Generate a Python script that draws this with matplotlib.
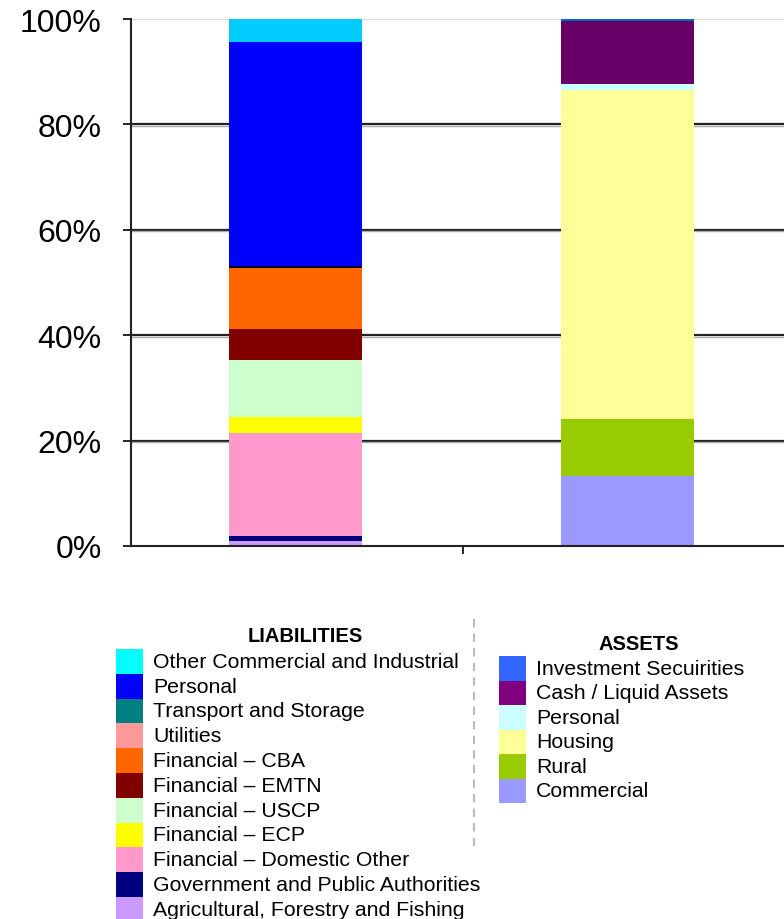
import matplotlib.pyplot as plt
from matplotlib.patches import Rectangle
from matplotlib.lines import Line2D

plt.rcParams['font.family'] = ['Liberation Sans', 'DejaVu Sans']

# liabilities, bottom to top (percent of total)
liab_names = ["Agricultural, Forestry and Fishing", "Government and Public Authorities",
              "Financial \u2013 Domestic Other", "Financial \u2013 ECP", "Financial \u2013 USCP",
              "Financial \u2013 EMTN", "Financial \u2013 CBA", "Utilities", "Transport and Storage",
              "Personal", "Other Commercial and Industrial"]
liab_values = [0.9, 1.0, 19.6, 3.0, 10.8, 5.9, 11.5, 0.1, 0.35, 42.55, 4.3]
liab_colors = ["#CC99FF", "#000080", "#FF99CC", "#FFFF00", "#CCFFCC",
               "#800000", "#FF6600", "#FF9999", "#000000", "#0000FF", "#00CCFF"]
liab_key_colors = ["#CC99FF", "#000080", "#FF99CC", "#FFFF00", "#CCFFCC",
                   "#800000", "#FF6600", "#FF9999", "#008080", "#0000FF", "#00FFFF"]

# assets, bottom to top
asset_names = ["Commercial", "Rural", "Housing", "Personal", "Cash / Liquid Assets",
               "Investment Secuirities"]
asset_values = [13.3, 10.8, 62.4, 1.1, 12.0, 0.4]
asset_colors = ["#9999FF", "#99CC00", "#FFFF99", "#CCFFFF", "#660066", "#0066CC"]
asset_key_colors = ["#9999FF", "#99CC00", "#FFFF99", "#CCFFFF", "#800080", "#3366FF"]

yticks = [0, 20, 40, 60, 80, 100]
ytick_labels = ["0%", "20%", "40%", "60%", "80%", "100%"]

W, H = 784, 920
fig = plt.figure(figsize=(W / 100, H / 100), dpi=100)
ax = fig.add_axes([131 / W, 1 - 547 / H, 664 / W, 527 / H])

# gridlines behind the bars
for y in yticks[1:]:
    col = "#DDDDDD" if y == 100 else "#222222"
    ax.axhline(y, color=col, lw=1.6, zorder=0)
    if y != 100:
        ax.axhline(y - 0.25, color="#AAAAAA", lw=1.0, zorder=0)

bw = 0.40
bottom = 0
for v, c in zip(liab_values, liab_colors):
    ax.bar(0, v, bw, bottom=bottom, color=c, lw=0, zorder=2)
    bottom += v
bottom = 0
for v, c in zip(asset_values, asset_colors):
    ax.bar(1, v, bw, bottom=bottom, color=c, lw=0, zorder=2)
    bottom += v

ax.set_xlim(-0.495, 1.505)
ax.set_ylim(0, 100)
ax.set_xticks([0.505])
ax.set_xticklabels([])
ax.set_yticks(yticks)
ax.set_yticklabels(ytick_labels, fontsize=23)
ax.tick_params(axis='y', length=6, width=1.2, pad=15)
ax.tick_params(axis='x', length=6, width=1.2)
for s in ["top", "right"]:
    ax.spines[s].set_visible(False)
for s in ["left", "bottom"]:
    ax.spines[s].set_linewidth(1.5)
    ax.spines[s].set_color("#222222")


def px(x, y):
    return x / W, 1 - y / H


def draw_key(title, title_xy, names, colors, x0, y0, step):
    fig.text(*px(*title_xy), title, fontsize=14.5, fontweight='bold', ha='center', va='center')
    for i, (n, c) in enumerate(zip(names, colors)):
        top = y0 + i * step
        fig.patches.append(Rectangle(px(x0, top + step), 27 / W, step / H, facecolor=c,
                                     edgecolor='none', transform=fig.transFigure))
        fig.text(*px(x0 + 37, top + step / 2), n, fontsize=15.3, ha='left', va='center')


draw_key("LIABILITIES", (305, 637), liab_names[::-1], liab_key_colors[::-1], 116, 650, 24.8)
draw_key("ASSETS", (639, 645), asset_names[::-1], asset_key_colors[::-1], 499, 657, 24.5)

fig.add_artist(Line2D([474 / W, 474 / W], [1 - 620 / H, 1 - 848 / H], color="#BBBBBB",
                      lw=1.5, ls=(0, (4, 3)), transform=fig.transFigure))

fig.savefig("out.png", dpi=100)
